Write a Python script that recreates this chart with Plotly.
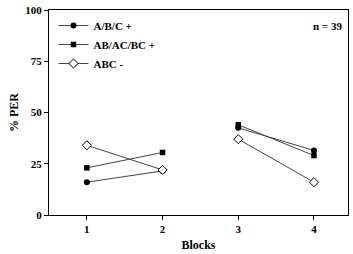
import plotly.graph_objects as go

blocks = [1, 2, 3, 4]
abc_single = [16, 21.5, 42.5, 31.5]
abc_pair = [23, 30.5, 44, 29]
abc_neg = [34, 22, 37, 16]
y_ticks = [0, 25, 50, 75, 100]
x_ticks = [1, 2, 3, 4]

font = dict(family="Liberation Serif, Times New Roman, serif", color="black")

fig = go.Figure()
line = dict(color="#444444", width=1)
m_circle = dict(symbol="circle", size=6, color="black")
m_square = dict(symbol="square", size=5.5, color="black")
m_diamond = dict(symbol="diamond", size=7, color="white", line=dict(color="black", width=1))

series = [
    ("<b>A/B/C +</b>", abc_single, m_circle, "a"),
    ("<b>AB/AC/BC +</b>", abc_pair, m_square, "b"),
    ("<b>ABC -</b>", abc_neg, m_diamond, "c"),
]
for name, vals, mk, grp in series:
    fig.add_trace(go.Scatter(x=blocks[:2], y=vals[:2], mode="lines+markers", name=name,
                             line=line, marker=mk, legendgroup=grp))
    fig.add_trace(go.Scatter(x=blocks[2:], y=vals[2:], mode="lines+markers", showlegend=False,
                             line=line, marker=mk, legendgroup=grp))

fig.add_annotation(x=0.985, y=0.96, xref="paper", yref="paper", text="<b>n = 39</b>", showarrow=False,
                   xanchor="right", yanchor="top", font=dict(size=11, **font))

fig.update_layout(
    width=353, height=254,
    margin=dict(l=49, r=4, t=7, b=36),
    paper_bgcolor="white", plot_bgcolor="white",
    font=dict(size=11, **font),
    showlegend=True,
    legend=dict(x=0.015, y=0.995, xanchor="left", yanchor="top", bgcolor="rgba(0,0,0,0)",
                font=dict(size=11, **font), itemwidth=30, tracegroupgap=0),
    xaxis=dict(range=[0.5, 4.45], tickvals=x_ticks, ticktext=[f"<b>{v}</b>" for v in x_ticks],
               showgrid=False, zeroline=False, showline=True, linecolor="black", linewidth=1,
               mirror=True, ticks="outside", ticklen=4, tickcolor="black",
               title=dict(text="<b>Blocks</b>", standoff=6, font=dict(size=12, **font))),
    yaxis=dict(range=[0, 100], tickvals=y_ticks, ticktext=[f"<b>{v}</b>" for v in y_ticks],
               showgrid=False, zeroline=False, showline=True, linecolor="black", linewidth=1,
               mirror=True, ticks="outside", ticklen=4, tickcolor="black",
               title=dict(text="<b>% PER</b>", standoff=4, font=dict(size=12, **font))),
)

fig.write_html("out.html")
